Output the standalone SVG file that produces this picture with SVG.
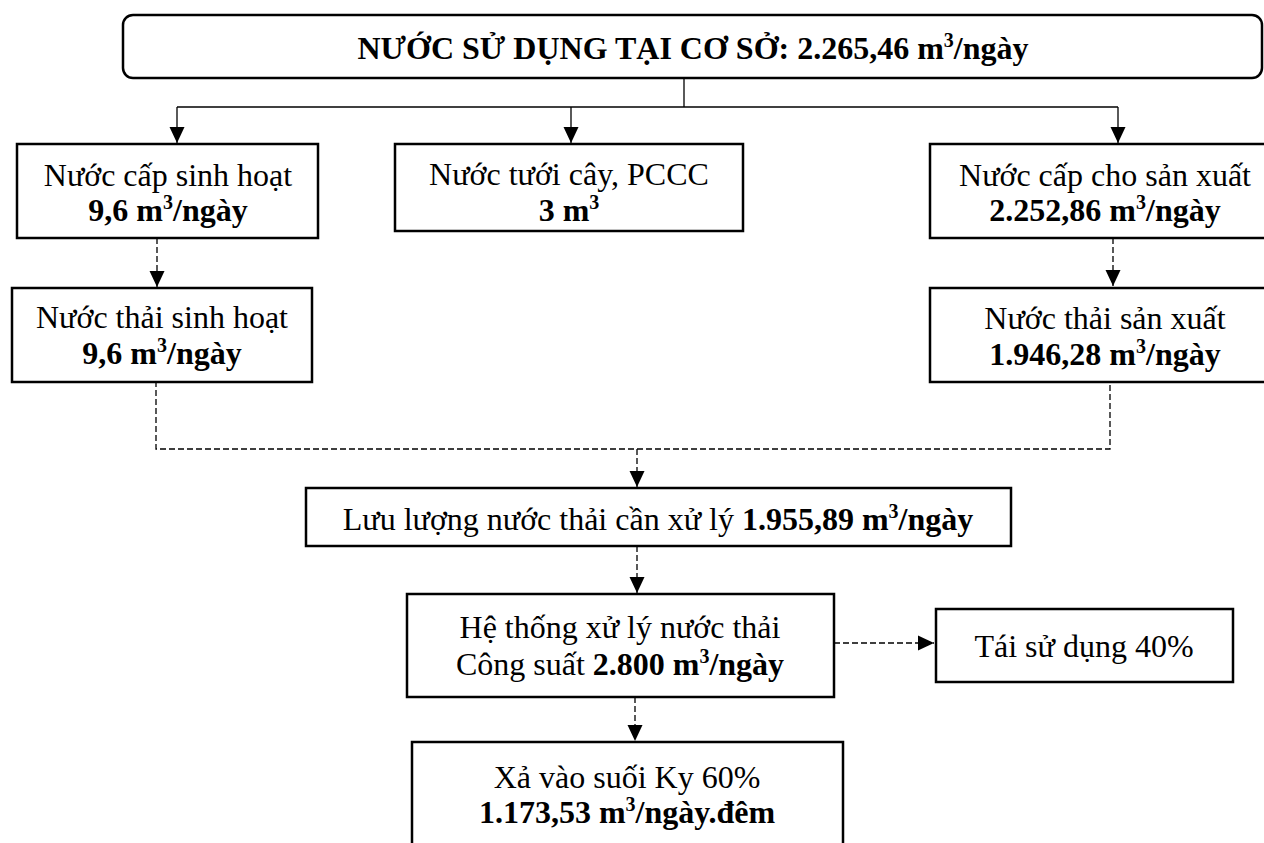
<svg xmlns="http://www.w3.org/2000/svg" width="1264" height="843" viewBox="0 0 1264 843">
<style>
  .box { fill: #fff; stroke: #000; stroke-width: 2.5; }
  .t { font-family: "Liberation Serif", "Times New Roman", serif; font-size: 32px; fill: #000; text-anchor: middle; }
  .b { font-weight: bold; }
  .solid { fill: none; stroke: #000; stroke-width: 1.3; }
  .dash { fill: none; stroke: #000; stroke-width: 1.3; stroke-dasharray: 6 3; }
</style>
<defs>
  <marker id="arr" markerUnits="userSpaceOnUse" markerWidth="17" markerHeight="17" viewBox="0 0 17 17" refX="16" refY="8.5" orient="auto">
    <path d="M0,1 L16,8.5 L0,16 Z" fill="#000"/>
  </marker>
</defs>
<rect width="1264" height="843" fill="#fff"/>

<g id="connectors">
  <path class="solid" d="M684,78 V107"/>
  <path class="solid" d="M177,107 H1118"/>
  <path class="solid" d="M177,107 V143" marker-end="url(#arr)"/>
  <path class="solid" d="M571,107 V143" marker-end="url(#arr)"/>
  <path class="solid" d="M1118,107 V143" marker-end="url(#arr)"/>
  <path class="dash" d="M157,238 V287" marker-end="url(#arr)"/>
  <path class="dash" d="M1113,238 V286" marker-end="url(#arr)"/>
  <path class="dash" d="M156,372 V449 H1110 V373"/>
  <path class="dash" d="M637,449 V487" marker-end="url(#arr)"/>
  <path class="dash" d="M637,546 V593" marker-end="url(#arr)"/>
  <path class="dash" d="M635,697 V741" marker-end="url(#arr)"/>
  <path class="dash" d="M834,643 H934" marker-end="url(#arr)"/>
</g>

<g id="n-top">
  <rect class="box" x="123" y="15" width="1139" height="63" rx="10" ry="10"/>
  <text class="t b" x="693" y="59" font-size="31">NƯỚC SỬ DỤNG TẠI CƠ SỞ: 2.265,46 m<tspan font-size="20" dy="-12">3</tspan><tspan dy="12">/ngày</tspan></text>
</g>

<g id="n-cap-sh">
  <rect class="box" x="17" y="144" width="301" height="94"/>
  <text class="t" x="168" y="186">Nước cấp sinh hoạt</text>
  <text class="t b" x="168" y="221">9,6 m<tspan font-size="20" dy="-12">3</tspan><tspan dy="12">/ngày</tspan></text>
</g>

<g id="n-tuoi">
  <rect class="box" x="395" y="144" width="348" height="87"/>
  <text class="t" x="569" y="185">Nước tưới cây, PCCC</text>
  <text class="t b" x="569" y="221">3 m<tspan font-size="20" dy="-12">3</tspan></text>
</g>

<g id="n-cap-sx">
  <rect class="box" x="930" y="144" width="345" height="94"/>
  <text class="t" x="1105" y="186">Nước cấp cho sản xuất</text>
  <text class="t b" x="1105" y="221">2.252,86 m<tspan font-size="20" dy="-12">3</tspan><tspan dy="12">/ngày</tspan></text>
</g>

<g id="n-thai-sh">
  <rect class="box" x="12" y="288" width="300" height="94"/>
  <text class="t" x="162" y="328">Nước thải sinh hoạt</text>
  <text class="t b" x="162" y="364">9,6 m<tspan font-size="20" dy="-12">3</tspan><tspan dy="12">/ngày</tspan></text>
</g>

<g id="n-thai-sx">
  <rect class="box" x="930" y="288" width="345" height="94"/>
  <text class="t" x="1105" y="329">Nước thải sản xuất</text>
  <text class="t b" x="1105" y="365">1.946,28 m<tspan font-size="20" dy="-12">3</tspan><tspan dy="12">/ngày</tspan></text>
</g>

<g id="n-luuluong">
  <rect class="box" x="306" y="488" width="705" height="58"/>
  <text class="t" x="658" y="530">Lưu lượng nước thải cần xử lý <tspan class="b">1.955,89 m</tspan><tspan class="b" font-size="20" dy="-12">3</tspan><tspan class="b" dy="12">/ngày</tspan></text>
</g>

<g id="n-hethong">
  <rect class="box" x="407" y="594" width="427" height="103"/>
  <text class="t" x="620" y="638">Hệ thống xử lý nước thải</text>
  <text class="t" x="620" y="675">Công suất <tspan class="b">2.800 m</tspan><tspan class="b" font-size="20" dy="-12">3</tspan><tspan class="b" dy="12">/ngày</tspan></text>
</g>

<g id="n-taisd">
  <rect class="box" x="936" y="609" width="297" height="73"/>
  <text class="t" x="1084" y="657">Tái sử dụng 40%</text>
</g>

<g id="n-xa">
  <rect class="box" x="412" y="742" width="431" height="120"/>
  <text class="t" x="627" y="788">Xả vào suối Ky 60%</text>
  <text class="t b" x="627" y="823">1.173,53 m<tspan font-size="20" dy="-12">3</tspan><tspan dy="12">/ngày.đêm</tspan></text>
</g>
</svg>
